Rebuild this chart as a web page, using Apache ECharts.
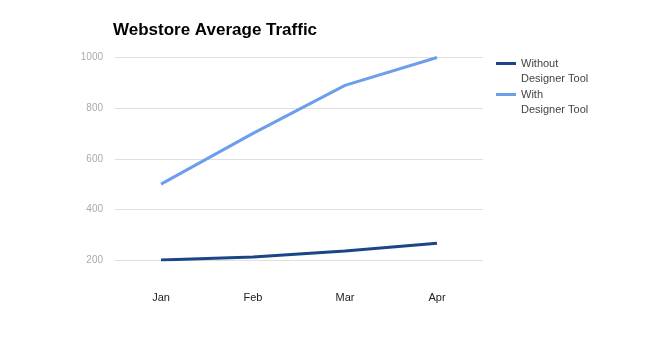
<!DOCTYPE html>
<html><head><meta charset="utf-8">
<script src="https://cdn.jsdelivr.net/npm/echarts@6/dist/echarts.min.js"></script>
<style>html,body{margin:0;padding:0;background:#fff}#c{width:650px;height:360px}</style>
</head><body><div id="c"></div>
<script>
var categories = ['Jan', 'Feb', 'Mar', 'Apr'];
var withoutTool = [200, 212, 236, 266];
var withTool = [500, 700, 890, 1000];
var seriesNames = ['Without\nDesigner Tool', 'With\nDesigner Tool'];
var yTicks = { min: 200, max: 1000, interval: 200 };

var chart = echarts.init(document.getElementById('c'), null, { renderer: 'canvas' });
chart.setOption({
  animation: false,
  textStyle: { fontFamily: 'Liberation Sans, Arial, sans-serif' },
  title: {
    text: 'Webstore Average Traffic', left: 108, top: 17,
    textStyle: { fontSize: 17, fontWeight: 'bold', color: '#000', fontFamily: 'Liberation Sans, Arial, sans-serif' }
  },
  legend: {
    orient: 'vertical', left: 491, top: 36,
    icon: 'rect', itemWidth: 20, itemHeight: 3, itemGap: -14,
    formatter: function (name) { return '\n' + name; },
    textStyle: { fontSize: 11, color: '#444', lineHeight: 15 },
    data: seriesNames
  },
  grid: { left: 115, right: 167, top: 57.5, bottom: 100, containLabel: false },
  xAxis: {
    type: 'category', data: categories, boundaryGap: true,
    axisLine: { show: false }, axisTick: { show: false },
    axisLabel: { color: '#222', fontSize: 11, margin: 32 }
  },
  yAxis: {
    type: 'value', min: yTicks.min, max: yTicks.max, interval: yTicks.interval,
    axisLine: { show: false }, axisTick: { show: false },
    axisLabel: { color: '#aaa', fontSize: 10, margin: 12, formatter: function (v) { return String(v); } },
    splitLine: { lineStyle: { color: '#e0e0e0', width: 1 } }
  },
  series: [
    { name: seriesNames[0], type: 'line', data: withoutTool, symbol: 'none',
      lineStyle: { color: '#1c4587', width: 3 }, itemStyle: { color: '#1c4587' } },
    { name: seriesNames[1], type: 'line', data: withTool, symbol: 'none',
      lineStyle: { color: '#6d9eeb', width: 3 }, itemStyle: { color: '#6d9eeb' } }
  ]
});
</script></body></html>
